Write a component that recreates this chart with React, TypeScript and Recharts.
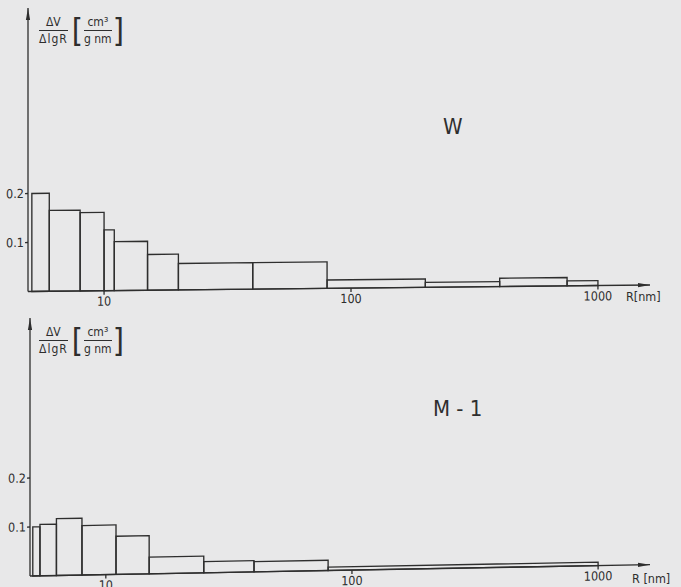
import React from "react";
import { ComposedChart, XAxis, YAxis, ReferenceArea } from "recharts";

// pore size distribution, bin edges in nm and ΔV/ΔlgR per bin
const wEdges = [5.1, 6, 8, 10, 11, 15, 20, 40, 80, 200, 400, 750, 1000];
const wValues = [0.2, 0.165, 0.16, 0.124, 0.1, 0.073, 0.054, 0.054, 0.017, 0.01, 0.017, 0.01];

const m1Edges = [5.05, 5.4, 6.3, 8, 11, 15, 25, 40, 80, 1000];
const m1Values = [0.1, 0.105, 0.116, 0.101, 0.078, 0.034, 0.023, 0.021, 0.007];

const xTicks = [10, 100, 1000];
const yTicks = [0.1, 0.2];

const ink = "#2e2e2e";
const paper = "#e8e8e9";
const font = "'DejaVu Sans Condensed', 'DejaVu Sans', sans-serif";
const xDomain = [4.92, 1625];

interface HistProps {
  edges: number[];
  values: number[];
  height: number;
  top: number;
  axisWidth: number;
  axisHeight: number;
  yMax: number;
}

function Histogram({ edges, values, height, top, axisWidth, axisHeight, yMax }: HistProps) {
  const bins = values.map((v, i) => ({ lo: edges[i], hi: edges[i + 1], v }));
  return (
    <ComposedChart
      width={681}
      height={height}
      data={bins}
      margin={{ top, right: 31, bottom: 0, left: 0 }}
    >
      <XAxis
        type="number"
        dataKey="lo"
        scale="log"
        domain={xDomain}
        allowDataOverflow
        ticks={xTicks}
        interval={0}
        height={axisHeight}
        tickSize={4}
        tickMargin={2}
        tick={{ fill: ink, fontSize: 12.5, fontFamily: font }}
        tickLine={{ stroke: ink, strokeWidth: 1.3 }}
        axisLine={{ stroke: ink, strokeWidth: 1.3, markerEnd: "url(#axisArrow)" }}
      />
      <YAxis
        type="number"
        dataKey="v"
        domain={[0, yMax]}
        allowDataOverflow
        ticks={yTicks}
        interval={0}
        width={axisWidth}
        tickSize={3}
        tickMargin={1}
        tickFormatter={(v: number) => v.toFixed(1)}
        tick={{ fill: ink, fontSize: 12.5, fontFamily: font }}
        tickLine={{ stroke: ink, strokeWidth: 1.3 }}
        axisLine={{ stroke: ink, strokeWidth: 1.3, markerStart: "url(#axisArrow)" }}
      />
      {bins.map((b) => (
        <ReferenceArea
          key={b.lo}
          x1={b.lo}
          x2={b.hi}
          y1={0}
          y2={b.v}
          fill="none"
          fillOpacity={0}
          stroke={ink}
          strokeWidth={1.35}
          ifOverflow="visible"
        />
      ))}
    </ComposedChart>
  );
}

function UnitLabel({ left, top }: { left: number; top: number }) {
  const frac: React.CSSProperties = {
    display: "flex",
    flexDirection: "column",
    alignItems: "center",
  };
  const under: React.CSSProperties = {
    borderTop: `1.3px solid ${ink}`,
    paddingTop: 2,
    alignSelf: "stretch",
    textAlign: "center",
  };
  return (
    <div
      style={{
        position: "absolute",
        left,
        top,
        display: "flex",
        alignItems: "center",
        color: ink,
        fontFamily: font,
        fontSize: 12,
        lineHeight: 1,
      }}
    >
      <div style={frac}>
        <span style={{ paddingBottom: 2 }}>ΔV</span>
        <span style={{ ...under, letterSpacing: 1 }}>ΔlgR</span>
      </div>
      <span style={{ fontSize: 32, fontWeight: 300, margin: "0 1px 0 4px" }}>[</span>
      <div style={frac}>
        <span style={{ paddingBottom: 2 }}>cm³</span>
        <span style={under}>g nm</span>
      </div>
      <span style={{ fontSize: 32, fontWeight: 300, marginLeft: 1 }}>]</span>
    </div>
  );
}

const text = (left: number, top: number, size: number): React.CSSProperties => ({
  position: "absolute",
  left,
  top,
  color: ink,
  fontFamily: font,
  fontSize: size,
  lineHeight: 1,
  whiteSpace: "pre",
});

export default function App() {
  return (
    <div
      style={{
        position: "absolute",
        left: 0,
        top: 0,
        width: 681,
        height: 587,
        background: paper,
        overflow: "hidden",
      }}
    >
      <svg width={0} height={0} style={{ position: "absolute" }}>
        <defs>
          <marker
            id="axisArrow"
            viewBox="0 0 12 6"
            refX={12}
            refY={3}
            markerWidth={12}
            markerHeight={6}
            markerUnits="userSpaceOnUse"
            orient="auto-start-reverse"
          >
            <path d="M0,0.9 L12,3 L0,5.1 z" fill={ink} />
          </marker>
        </defs>
      </svg>

      <div
        style={{
          position: "absolute",
          left: 0,
          top: 0,
          transform: "skewY(-0.6deg)",
          transformOrigin: "28px 291px",
        }}
      >
        <Histogram
          edges={wEdges}
          values={wValues}
          height={312}
          top={8}
          axisWidth={28}
          axisHeight={20.5}
          yMax={0.5786}
        />
      </div>
      <UnitLabel left={39} top={14} />
      <div style={text(443, 116, 22)}>W</div>
      <div style={text(626, 291, 12.5)}>R[nm]</div>

      <div
        style={{
          position: "absolute",
          left: 0,
          top: 312,
          transform: "skewY(-1.05deg)",
          transformOrigin: "30px 264px",
        }}
      >
        <Histogram
          edges={m1Edges}
          values={m1Values}
          height={292}
          top={6}
          axisWidth={30}
          axisHeight={28}
          yMax={0.5265}
        />
      </div>
      <UnitLabel left={39} top={324} />
      <div style={text(433, 398, 22)}>M - 1</div>
      <div style={text(632, 573, 12.5)}>R [nm]</div>
    </div>
  );
}
